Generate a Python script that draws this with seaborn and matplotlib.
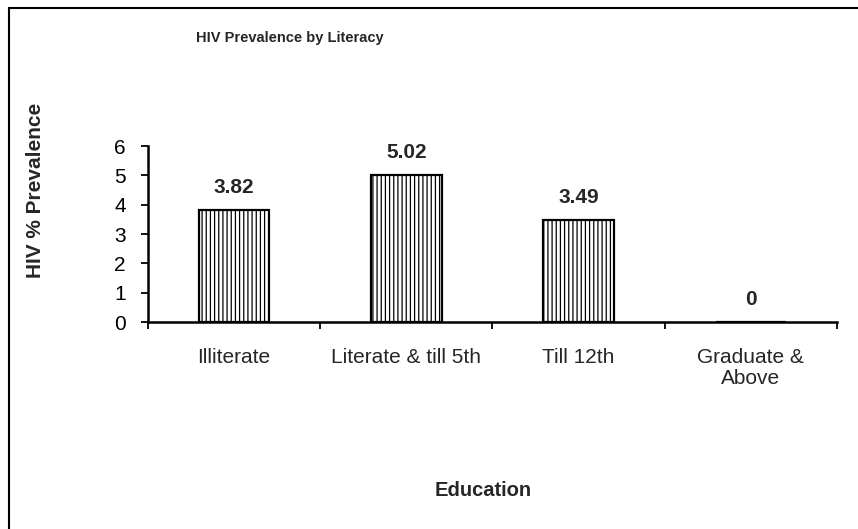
import matplotlib
matplotlib.use('Agg')
import matplotlib.pyplot as plt
import seaborn as sns
import pandas as pd
from matplotlib.patches import Rectangle

# Data
categories = ['Illiterate', 'Literate & till 5th', 'Till 12th', 'Graduate &\nAbove']
prevalence = [3.82, 5.02, 3.49, 0]
value_labels = ['3.82', '5.02', '3.49', '0']
y_ticks = [0, 1, 2, 3, 4, 5, 6]

df = pd.DataFrame({'Education': categories, 'Prevalence': prevalence})

sns.set_style('white')
plt.rcParams['font.family'] = ['Liberation Sans', 'DejaVu Sans']
plt.rcParams['hatch.linewidth'] = 0.9

fig = plt.figure(figsize=(8.58, 5.29), dpi=100)
ax = fig.add_axes([148 / 858, 1 - 322 / 529, (837 - 148) / 858, (322 - 146) / 529])

sns.barplot(data=df, x='Education', y='Prevalence', ax=ax, color='white',
            edgecolor='black', linewidth=1.6, width=0.41, saturation=1)

for p in ax.patches:
    p.set_hatch('||||')
    p.set_facecolor('white')

for i, (v, lab) in enumerate(zip(prevalence, value_labels)):
    ax.annotate(lab, (i, v), xytext=(0, 16), textcoords='offset points',
                ha='center', va='center', fontsize=15, fontweight='bold')

ax.set_xlim(-0.5, len(categories) - 0.5)
ax.set_ylim(0, 6)
ax.set_yticks(y_ticks)
ax.set_yticklabels([str(t) for t in y_ticks], fontsize=15)
ax.set_xticks([i - 0.5 for i in range(len(categories) + 1)], minor=False)
ax.set_xticklabels([])
ax.set_xticks(range(len(categories)), minor=True)
ax.set_xticklabels(categories, minor=True, fontsize=15, linespacing=1.1)
ax.tick_params(axis='x', which='major', bottom=True, direction='out', length=5,
               width=1.3, colors='black')
ax.tick_params(axis='x', which='minor', bottom=True, length=0, pad=19)
ax.tick_params(axis='y', left=True, direction='out', length=5, width=1.3,
               colors='black', pad=11)

for side in ['top', 'right']:
    ax.spines[side].set_visible(False)
for side in ['left', 'bottom']:
    ax.spines[side].set_color('black')
    ax.spines[side].set_linewidth(1.8)

ax.set_xlabel('')
ax.set_ylabel('')

fig.text(290 / 858, 1 - 38 / 529, 'HIV Prevalence by Literacy', ha='center', va='center',
         fontsize=10.5, fontweight='bold')
fig.text(36 / 858, 1 - 190 / 529, 'HIV % Prevalence', ha='center', va='center',
         rotation=90, fontsize=15, fontweight='bold')
fig.text(483 / 858, 1 - 490 / 529, 'Education', ha='center', va='center',
         fontsize=14.5, fontweight='bold')

# outer frame: only the top and left edges fall inside the image
fig.patches.append(Rectangle((9 / 858, -0.05), 1.0, 1 - 8 / 529 + 0.05,
                             transform=fig.transFigure, fill=False,
                             edgecolor='black', linewidth=1.5, clip_on=False))

fig.savefig('out.png', dpi=100)
